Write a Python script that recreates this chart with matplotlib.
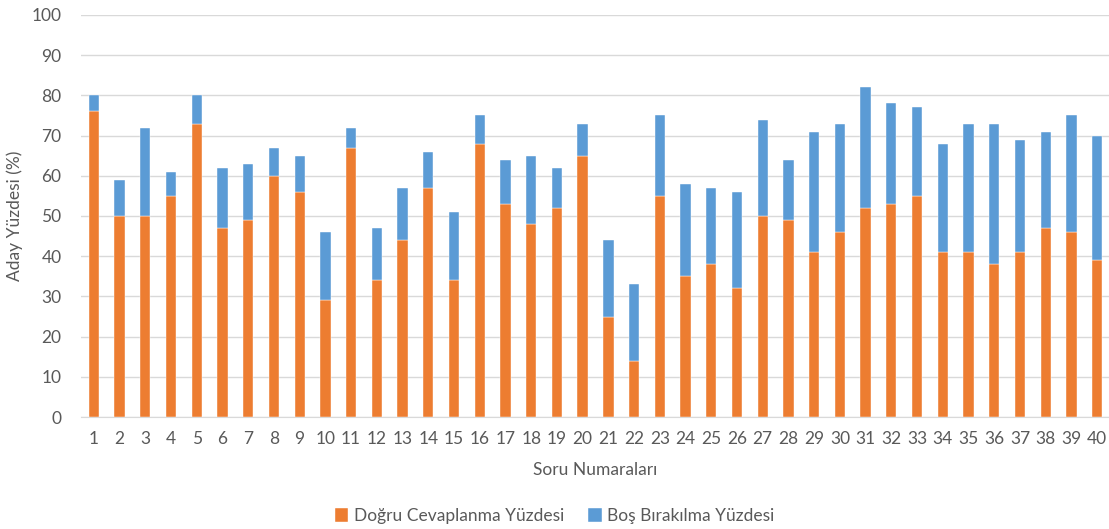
import matplotlib
matplotlib.use("Agg")
import matplotlib.pyplot as plt
import numpy as np

questions = list(range(1, 41))
dogru = [76, 50, 50, 55, 73, 47, 49, 60, 56, 29,
         67, 34, 44, 57, 34, 68, 53, 48, 52, 65,
         25, 14, 55, 35, 38, 32, 50, 49, 41, 46,
         52, 53, 55, 41, 41, 38, 41, 47, 46, 39]
toplam = [80, 59, 72, 61, 80, 62, 63, 67, 65, 46,
          72, 47, 57, 66, 51, 75, 64, 65, 62, 73,
          44, 33, 75, 58, 57, 56, 74, 64, 71, 73,
          82, 78, 77, 68, 73, 73, 69, 71, 75, 70]
bos = [t - d for t, d in zip(toplam, dogru)]
y_ticks = list(range(0, 101, 10))

plt.rcParams['font.family'] = ['Lato', 'DejaVu Sans']
text_color = '#595959'

fig = plt.figure(figsize=(11.09, 5.29), dpi=100)
ax = fig.add_axes([81/1109, 1 - 417/529, (1110-81)/1109, (417-15)/529])

x = np.array(questions)
ax.bar(x, dogru, width=0.4, color='#ED7D31', edgecolor='white', linewidth=0.3,
       label='Doğru Cevaplanma Yüzdesi', zorder=3)
ax.bar(x, bos, width=0.4, bottom=dogru, color='#5B9BD5', edgecolor='white', linewidth=0.3,
       label='Boş Bırakılma Yüzdesi', zorder=3)

ax.set_xlim(0.5, 40.5)
ax.set_ylim(0, 100)
ax.set_yticks(y_ticks)
ax.set_xticks(x)
ax.set_xticklabels([str(q) for q in questions])
ax.grid(axis='y', color='#D9D9D9', linewidth=1, zorder=0)
for s in ['top', 'right', 'left']:
    ax.spines[s].set_visible(False)
ax.spines['bottom'].set_color('#D9D9D9')
ax.tick_params(axis='both', length=0, labelsize=12.5, colors=text_color)
ax.tick_params(axis='x', pad=10)
ax.tick_params(axis='y', pad=14)

ax.set_xlabel('Soru Numaraları', fontsize=12.5, color=text_color, va='center')
ax.xaxis.set_label_coords(0.5, (417 - 470) / 402)
ax.set_ylabel('Aday Yüzdesi (%)', fontsize=12.5, color=text_color, va='center')
ax.yaxis.set_label_coords((15 - 81) / 1029, 0.5)

fig.legend(loc='center', bbox_to_anchor=(0.5, 1 - 516/529), ncol=2, frameon=False,
           fontsize=12.5, labelcolor=text_color, handlelength=0.8, handleheight=0.8,
           handletextpad=0.3, columnspacing=1.4)

fig.savefig('out.png', dpi=100)
